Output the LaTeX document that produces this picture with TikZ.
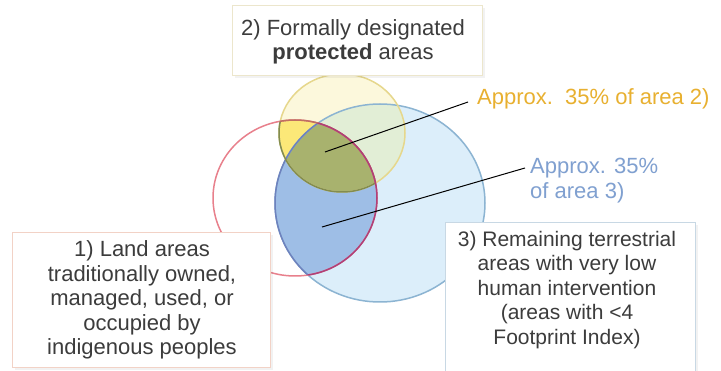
\documentclass[tikz,border=0pt]{standalone}
\usepackage{fontspec}
\setmainfont{Liberation Sans}
\usetikzlibrary{shadows}
\definecolor{bluefill}{HTML}{DCEEFA}
\definecolor{bluestroke}{HTML}{8CB4D2}
\definecolor{bluedark}{HTML}{6E82BE}
\definecolor{redstroke}{HTML}{E8808C}
\definecolor{reddark}{HTML}{B04078}
\definecolor{redbrown}{HTML}{C07060}
\definecolor{midblue}{HTML}{9EBEE6}
\definecolor{yelfill}{HTML}{FCF8DC}
\definecolor{yelstroke}{HTML}{E6D78C}
\definecolor{yeldark}{HTML}{828C50}
\definecolor{palegreen}{HTML}{E2EED6}
\definecolor{brightyel}{HTML}{FCE878}
\definecolor{olive}{HTML}{A8B26E}
\definecolor{textgray}{HTML}{3C3C3C}
\definecolor{goldlab}{HTML}{E8B030}
\definecolor{bluelab}{HTML}{80A0D0}
\definecolor{boxone}{HTML}{F2D2C6}
\definecolor{boxtwo}{HTML}{ECE6CC}
\definecolor{boxthree}{HTML}{C8D8E4}
\begin{document}
\begin{tikzpicture}[x=1pt,y=-1pt,
  txt/.style={font=\fontsize{22}{24.5}\selectfont, text=textgray, align=center, inner sep=0pt},
  txtsmall/.style={txt, font=\fontsize{21}{24.5}\selectfont},
  infobox/.style={fill=white, line width=0.9pt, inner sep=0pt,
    drop shadow={opacity=0.10, shadow xshift=3pt, shadow yshift=-3pt}},
  ring/.style={line width=1.5pt},
  pointer/.style={line width=1pt, black},
  lab/.style={font=\fontsize{22}{25}\selectfont, inner sep=0pt}]
\useasboundingbox (0,0) rectangle (721,371);
\fill[white] (0,0) rectangle (721,371);
\def\bluec{(380,203) ellipse [x radius=105pt, y radius=99pt]}
\def\redc{(295,198) ellipse [x radius=82pt, y radius=78pt]}
\def\yelc{(342,133) ellipse [x radius=63pt, y radius=59pt]}
% fills
\fill[bluefill] \bluec;
\fill[yelfill] \yelc;
\begin{scope}\clip \bluec; \fill[palegreen] \yelc; \end{scope}
\begin{scope}\clip \redc;
  \fill[midblue] \bluec;
  \fill[brightyel] \yelc;
  \begin{scope}\clip \bluec; \fill[olive] \yelc; \end{scope}
\end{scope}
% strokes
\draw[ring, bluestroke] \bluec;
\draw[ring, yelstroke] \yelc;
\draw[ring, redstroke] \redc;
\begin{scope}\clip \redc;
  \draw[ring, bluedark] \bluec;
  \draw[ring, yeldark] \yelc;
\end{scope}
\begin{scope}\clip \yelc; \draw[ring, redbrown] \redc; \end{scope}
\begin{scope}\clip \bluec; \draw[ring, reddark] \redc; \end{scope}
% boxes
\node[infobox, draw=boxtwo, minimum width=250pt, minimum height=70pt] (box2) at (357,40) {};
\node[txt] (t2) at (353,42) {2) Formally designated\\\textbf{protected} areas};
\node[infobox, draw=boxone, minimum width=258pt, minimum height=135pt] (box1) at (141,299.5) {};
\node[txt] (t1) at (142,300) {1) Land areas\\traditionally owned,\\managed, used, or\\occupied by\\indigenous peoples};
\node[infobox, draw=boxthree, minimum width=250pt, minimum height=152pt] (box3) at (570,298) {};
\node[txtsmall] (t3) at (567,290) {3) Remaining terrestrial\\areas with very low\\human intervention\\(areas with <4\\Footprint Index)};
% labels
\node[lab, text=goldlab, anchor=base west] (lab2) at (477,105) {Approx.\ \ 35\% of area 2)};
\node[lab, text=bluelab, anchor=north west, align=left] (lab3) at (530,158) {Approx. 35\%\\of area 3)};
\coordinate (p2) at (325,152);
\coordinate (p3) at (322,227);
\coordinate (e2) at (468,102);
\coordinate (e3) at (525,168);
\draw[pointer] (p2) -- (e2);
\draw[pointer] (p3) -- (e3);
\end{tikzpicture}
\end{document}
